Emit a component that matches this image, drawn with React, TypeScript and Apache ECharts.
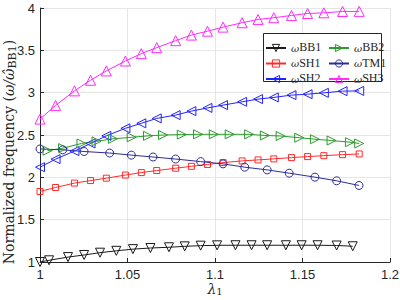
import React, { useEffect, useRef } from "react";
import * as echarts from "echarts";

// x ticks / y ticks
const xTicks = [1, 1.05, 1.1, 1.15, 1.2];
const yTicks = [1, 1.5, 2, 2.5, 3, 3.5, 4];

// lambda_1 samples per series
const lamBB1 = [1.0, 1.0052, 1.016, 1.0252, 1.0343, 1.0436, 1.0531, 1.0631, 1.0737, 1.0827, 1.0918, 1.1012, 1.1117, 1.1209, 1.1298, 1.1405, 1.1495, 1.1586, 1.1695, 1.1787];
const valBB1 = [1.0, 1.02, 1.058, 1.083, 1.11, 1.132, 1.152, 1.165, 1.174, 1.185, 1.193, 1.197, 1.198, 1.198, 1.198, 1.198, 1.198, 1.198, 1.195, 1.186];

const lamMain = [1.0, 1.0089, 1.0197, 1.0289, 1.0379, 1.0488, 1.0579, 1.0667, 1.0775, 1.0865, 1.0957, 1.1046, 1.1155, 1.1246, 1.1336, 1.1437, 1.1529, 1.1622, 1.1729, 1.1824];
const valSH1 = [1.833, 1.88, 1.932, 1.962, 1.99, 2.027, 2.056, 2.08, 2.108, 2.13, 2.152, 2.174, 2.194, 2.206, 2.218, 2.233, 2.245, 2.256, 2.268, 2.276];
const valSH2 = [2.12, 2.215, 2.31, 2.4, 2.49, 2.579, 2.638, 2.696, 2.735, 2.782, 2.82, 2.853, 2.892, 2.924, 2.944, 2.971, 2.982, 2.998, 3.018, 3.021];
const valSH3 = [2.688, 2.849, 3.021, 3.147, 3.257, 3.374, 3.461, 3.532, 3.614, 3.68, 3.726, 3.774, 3.826, 3.865, 3.885, 3.912, 3.935, 3.943, 3.959, 3.96];

const lamBB2 = [1.0043, 1.0132, 1.0237, 1.0323, 1.0417, 1.0524, 1.0617, 1.0703, 1.081, 1.0903, 1.0993, 1.1084, 1.1195, 1.1285, 1.1375, 1.1481, 1.1571, 1.1666, 1.1771, 1.1824];
const valBB2 = [2.315, 2.345, 2.4, 2.425, 2.455, 2.473, 2.49, 2.5, 2.505, 2.508, 2.508, 2.508, 2.508, 2.495, 2.488, 2.468, 2.45, 2.435, 2.415, 2.4];

const lamTM1 = [1.0, 1.013, 1.0252, 1.0398, 1.0522, 1.0646, 1.0775, 1.0918, 1.1046, 1.117, 1.1298, 1.1424, 1.1571, 1.1695, 1.1823];
const valTM1 = [2.335, 2.325, 2.305, 2.287, 2.262, 2.24, 2.216, 2.186, 2.159, 2.12, 2.088, 2.049, 2.002, 1.959, 1.904];

const zip = (xs: number[], ys: number[]) => xs.map((x, i) => [x, ys[i]]);

const INK = "#262626";
const SERIF = "DejaVu Serif";
const SUBF = "Liberation Serif";

export default function App() {
  const ref = useRef<HTMLDivElement>(null);
  useEffect(() => {
    if (!ref.current) return;
    const chart = echarts.init(ref.current, undefined, { renderer: "svg" });

    const mk = (name: string, lam: number[], val: number[], color: string, symbol: string, size: number, rot = 0) => ({
      name,
      type: "line",
      data: zip(lam, val),
      color,
      symbol,
      symbolSize: size,
      symbolRotate: rot,
      showAllSymbol: true,
      lineStyle: { color, width: 1 },
      itemStyle: { color: "rgba(255,255,255,0)", borderColor: color, borderWidth: 1 },
      emphasis: { disabled: true },
    });

    const legendText = {
      fontFamily: SERIF,
      color: INK,
      rich: {
        w: { fontFamily: SERIF, fontStyle: "italic", fontSize: 10, color: INK, verticalAlign: "top", lineHeight: 9 },
        s: { fontFamily: SUBF, fontSize: 12, color: INK, verticalAlign: "bottom", lineHeight: 10, padding: [4, 0, 0, 0] },
      },
    };
    const legendCommon = {
      orient: "vertical",
      top: 37,
      itemWidth: 20,
      itemHeight: 9,
      itemGap: -0.5,
      padding: 0,
      formatter: (n: string) => `{w|ω}{s|${n}}`,
      textStyle: legendText,
      itemStyle: { color: "rgba(255,255,255,0)", borderColor: "inherit", borderWidth: 1 },
    };

    chart.setOption({
      animation: false,
      grid: { left: 40, right: 10, top: 8, bottom: 38, containLabel: false, outerBoundsMode: "none" },
      xAxis: {
        type: "value",
        min: xTicks[0],
        max: xTicks[xTicks.length - 1],
        interval: 0.05,
        name: "{w|λ}{s|1}",
        nameLocation: "middle",
        nameGap: 20,
        nameMoveOverlap: false,
        nameTextStyle: {
          rich: {
            w: { fontFamily: SERIF, fontStyle: "italic", fontSize: 14, color: INK, verticalAlign: "top", lineHeight: 14 },
            s: { fontFamily: SERIF, fontSize: 10, color: INK, verticalAlign: "bottom", lineHeight: 10, padding: [6, 0, 0, 0] },
          },
        },
        axisLine: { lineStyle: { color: INK, width: 1 } },
        axisTick: { inside: true, length: 4, lineStyle: { color: INK } },
        axisLabel: { color: INK, fontFamily: "Liberation Sans", fontSize: 13, margin: 6, formatter: (v: number) => String(Math.round(v * 100) / 100) },
        splitLine: { show: true, lineStyle: { color: "#e6e6e6", width: 1 } },
      },
      yAxis: {
        type: "value",
        min: yTicks[0],
        max: yTicks[yTicks.length - 1],
        interval: 0.5,
        name: "{t|Normalized frequency }{t|(}{w|ω/ω̂}{s|BB1}{t|)}",
        nameLocation: "middle",
        nameGap: 22,
        nameMoveOverlap: false,
        nameTextStyle: {
          padding: [0, 34, 0, 0],
          rich: {
            t: { fontFamily: SERIF, fontSize: 14, color: INK, verticalAlign: "top", lineHeight: 16 },
            w: { fontFamily: SERIF, fontStyle: "italic", fontSize: 14, color: INK, verticalAlign: "top", lineHeight: 16 },
            s: { fontFamily: SERIF, fontSize: 11, color: INK, verticalAlign: "bottom", lineHeight: 12, padding: [8, 0, 0, 0] },
          },
        },
        axisLine: { show: true, lineStyle: { color: INK, width: 1 } },
        axisTick: { show: true, inside: true, length: 4, lineStyle: { color: INK } },
        axisLabel: { color: INK, fontFamily: "Liberation Sans", fontSize: 13, margin: 5, formatter: (v: number) => String(Math.round(v * 100) / 100) },
        splitLine: { show: true, lineStyle: { color: "#e6e6e6", width: 1 } },
      },
      legend: [
        { ...legendCommon, data: ["BB1", "SH1", "SH2"], left: 265 },
        { ...legendCommon, data: ["BB2", "TM1", "SH3"], left: 328 },
      ],
      graphic: [
        {
          type: "rect",
          z: 3,
          shape: { x: 263.5, y: 33.5, width: 118, height: 48 },
          style: { fill: "#ffffff", stroke: INK, lineWidth: 1 },
        },
      ],
      series: [
        mk("BB1", lamBB1, valBB1, "#1a1a1a", "triangle", 9, 180),
        mk("SH1", lamMain, valSH1, "#ff2b2b", "rect", 6),
        mk("SH2", lamMain, valSH2, "#2323ff", "triangle", 9, 90),
        mk("BB2", lamBB2, valBB2, "#2f9a2f", "triangle", 9, -90),
        mk("TM1", lamTM1, valTM1, "#2d2d96", "circle", 8),
        mk("SH3", lamMain, valSH3, "#ff2bff", "triangle", 10),
      ],
    });
    return () => chart.dispose();
  }, []);
  return <div ref={ref} style={{ position: "absolute", left: 0, top: 0, width: 400, height: 300 }} />;
}
